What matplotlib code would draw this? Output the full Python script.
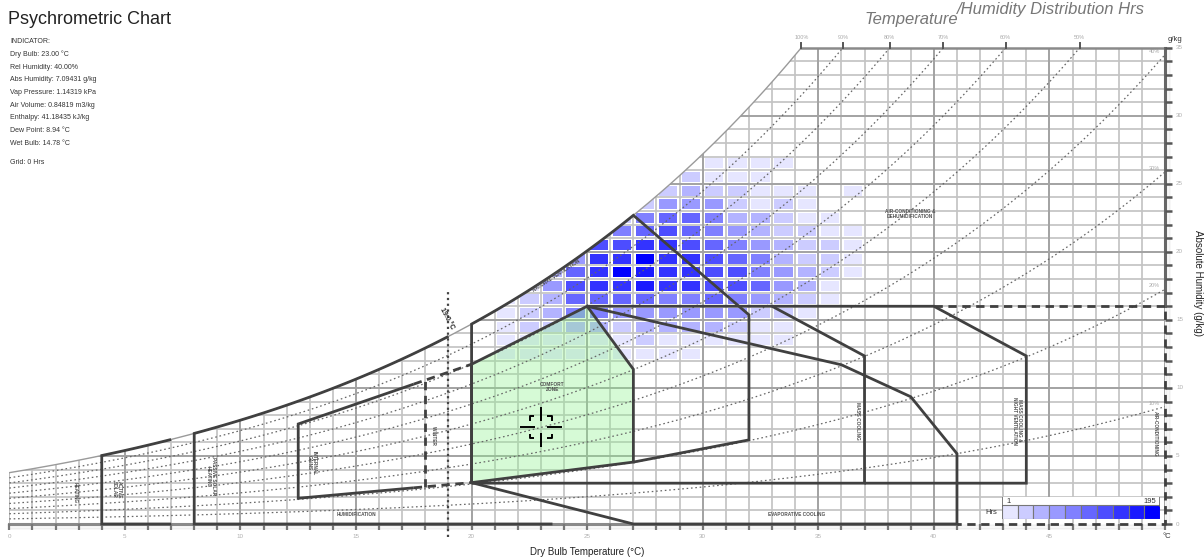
import numpy as np
import matplotlib
matplotlib.use("Agg")
import matplotlib.pyplot as plt
from matplotlib.patches import Polygon, Rectangle
from matplotlib.collections import LineCollection, PatchCollection

plt.rcParams['font.family'] = ['Liberation Sans', 'DejaVu Sans']

# ==========================================
# 1. Data
# ==========================================
indicator_lines = [
    "INDICATOR:",
    "Dry Bulb: 23.00 °C",
    "Rel Humidity: 40.00%",
    "Abs Humidity: 7.09431 g/kg",
    "Vap Pressure: 1.14319 kPa",
    "Air Volume: 0.84819 m3/kg",
    "Enthalpy: 41.18435 kJ/kg",
    "Dew Point: 8.94 °C",
    "Wet Bulb: 14.78 °C",
]
grid_text = "Grid: 0 Hrs"
indicator_db = 23.0
indicator_ah = 7.09431

rh_levels = [10, 20, 30, 40, 50, 60, 70, 80, 90]
top_rh_labels = [100, 90, 80, 70, 60, 50]
side_rh_labels = [40, 30, 20, 10]
x_tick_labels = [0, 5, 10, 15, 20, 25, 30, 35, 40, 45]
y_tick_labels = [0, 5, 10, 15, 20, 25, 30, 35]

# hour class (1..10 -> 1..195 hrs) per 1 °C x 1 g/kg cell
heat_db = [21, 22, 23, 24, 25, 26, 27, 28, 29, 30, 31, 32, 33, 34, 35, 36]
heat_ah = [26, 25, 24, 23, 22, 21, 20, 19, 18, 17, 16, 15, 14, 13, 12]
heat_class = [
    [0, 0, 0, 0, 0, 0, 0, 0, 0, 1, 1, 1, 1, 0, 0, 0],
    [0, 0, 0, 0, 0, 0, 0, 0, 2, 1, 1, 1, 0, 0, 0, 0],
    [0, 0, 0, 0, 0, 0, 0, 2, 3, 2, 2, 1, 1, 1, 0, 1],
    [0, 0, 0, 0, 0, 0, 2, 4, 4, 4, 2, 1, 2, 1, 0, 0],
    [0, 0, 0, 0, 0, 2, 5, 6, 6, 5, 3, 3, 2, 1, 1, 0],
    [0, 0, 0, 0, 4, 5, 6, 7, 6, 5, 4, 3, 2, 2, 1, 1],
    [0, 0, 0, 0, 7, 7, 8, 8, 7, 6, 5, 4, 3, 2, 2, 1],
    [0, 0, 0, 4, 8, 8, 10, 8, 8, 7, 6, 5, 3, 2, 2, 1],
    [0, 0, 3, 6, 8, 10, 9, 8, 8, 7, 7, 5, 4, 3, 2, 1],
    [0, 1, 4, 7, 8, 8, 9, 8, 8, 7, 7, 6, 4, 3, 1, 0],
    [1, 2, 3, 6, 6, 6, 6, 5, 5, 6, 5, 4, 3, 2, 1, 0],
    [1, 2, 3, 5, 5, 4, 4, 4, 4, 4, 4, 2, 2, 1, 0, 0],
    [1, 2, 2, 3, 3, 2, 3, 3, 3, 3, 2, 1, 1, 0, 0, 0],
    [1, 1, 1, 1, 1, 1, 2, 1, 1, 1, 1, 1, 1, 0, 0, 0],
    [1, 1, 1, 1, 1, 1, 1, 1, 1, 0, 0, 0, 0, 0, 0, 0],
]
legend_min, legend_max = 1, 195

# design strategy zones (dry bulb °C, abs humidity g/kg)
comfort_zone = [(20, 3.04), (20, 11.74), (25, 16.0), (27, 11.37), (27, 4.55)]
natural_vent_sat = (20, 27)
natural_vent_tail = [(32, 15.37), (32, 6.18), (27, 4.55)]
evap_cooling = [(25, 16.0), (36, 11.7), (39, 9.35), (41, 5.17), (41, 0.0), (27, 0.0), (20, 3.04)]
mass_cooling = [(33, 16.0), (37, 12.35), (37, 3.0), (20, 3.0)]
mass_cooling_nv = [(25, 16.0), (40, 16.0), (44, 12.35), (44, 3.0), (37, 3.0)]
air_con = [(40, 16.0), (50, 16.0), (50, 0.0), (41, 0.0)]
internal_gains = [(17.5, 10.28), (12.5, 7.35), (12.5, 1.89), (17.5, 2.66)]
winter_lines = [
    [(17.5, 10.28), (20, 11.74)],
    [(17.5, 2.66), (20, 3.04)],
    [(18, 2.71), (18, 10.57)],
]
passive_solar_sat = (8, 19)
passive_solar_bottom = 23.5
active_solar_sat = (4, 7)
design_temp = 19.0

zone_labels = [
    ("HEATING", 2.84, 2.3, -90),
    ("ACTIVE\nSOLAR", 4.65, 2.55, -90),
    ("PASSIVE SOLAR\nHEATING", 8.72, 3.5, -90),
    ("INTERNAL\nGAINS", 13.08, 4.5, -90),
    ("WINTER", 18.34, 6.5, -90),
    ("HUMIDIFICATION", 15.0, 0.73, 0),
    ("COMFORT\nZONE", 23.5, 10.1, 0),
    ("NATURAL VENTILATION", 23.68, 18.25, 33),
    ("AIR-CONDITIONING &\nDEHUMIDIFICATION", 38.96, 22.8, 0),
    ("MASS COOLING", 36.71, 7.6, -90),
    ("MASS COOLING &\nNIGHT VENTILATION", 43.6, 7.6, -90),
    ("AIR-CONDITIONING", 49.6, 6.6, -90),
    ("EVAPORATIVE COOLING", 34.07, 0.73, 0),
]


def w_sat(t, p=101.325):
    ps = 0.61078 * np.exp(17.27 * t / (t + 237.3))
    return 622.0 * ps / (p - ps)


def sat_points(t0, t1):
    t = np.linspace(t0, t1, 60)
    return list(zip(t, w_sat(t)))


# ==========================================
# 2. Figure and axes
# ==========================================
W_PX, H_PX = 1204, 560
fig = plt.figure(figsize=(W_PX / 100, H_PX / 100), dpi=100)
ax_rect = [9.3 / W_PX, 36 / H_PX, (1165 - 9.3) / W_PX, (524 - 47.7) / H_PX]
ax = fig.add_axes(ax_rect)
ax.set_xlim(0, 50)
ax.set_ylim(0, 35)
ax.axis('off')

ppt = ax_rect[2] * W_PX / 50.0   # px per °C
ppw = ax_rect[3] * H_PX / 35.0   # px per g/kg

tt = np.linspace(0, 50, 1001)
ws = w_sat(tt)
t_top = np.interp(35, ws, tt)

clip_t = tt[tt <= t_top]
clip_verts = [(0, 0)] + list(zip(clip_t, w_sat(clip_t))) + [(t_top, 35), (50, 35), (50, 0)]
clip_poly = Polygon(clip_verts, closed=True, transform=ax.transData)

# ==========================================
# 3. Grid
# ==========================================
for major, col, lw in [(False, '#c4c4c4', 1.25), (True, '#a2a2a2', 1.4)]:
    segs = []
    for t in range(0, 51):
        if (t % 5 == 0) == major:
            segs.append([(t, 0), (t, 35)])
    for w in range(1, 35):
        if (w % 5 == 0) == major:
            segs.append([(0, w), (50, w)])
    lc = LineCollection(segs, colors=col, linewidths=lw, zorder=1)
    lc.set_clip_path(clip_poly)
    ax.add_collection(lc)

# ==========================================
# 4. Heat map cells
# ==========================================
def class_color(k):
    rg = 230 * (10 - k) / 9.0 / 255.0
    return (rg, rg, 1.0)

dx = 2.4 / ppt
dy = 1.8 / ppw
rects, cols = [], []
for i, w in enumerate(heat_ah):
    for j, t in enumerate(heat_db):
        k = heat_class[i][j]
        if k > 0:
            rects.append(Rectangle((t + dx, w + dy), 1 - 2 * dx, 1 - 2 * dy))
            cols.append(class_color(k))
pc = PatchCollection(rects, facecolor=cols, edgecolor='none', zorder=2)
pc.set_clip_path(clip_poly)
ax.add_collection(pc)

# comfort zone fill
ax.add_patch(Polygon(comfort_zone, closed=True, facecolor=(0.55, 0.95, 0.55),
                     alpha=0.35, edgecolor='none', zorder=3))

# ==========================================
# 5. RH curves and axes
# ==========================================
for rh in rh_levels:
    w = rh / 100.0 * ws
    m = w <= 35.2
    ax.plot(tt[m], w[m], color='#666666', lw=0.9, ls=(0, (1.3, 2.2)), zorder=4)
m = ws <= 35.2
ax.plot(tt[m], ws[m], color='#9a9a9a', lw=1.0, zorder=4)

ax.plot([t_top, 50], [35, 35], color='#8a8a8a', lw=1.8, zorder=4, clip_on=False)
ax.plot([0, 41], [0, 0], color='#8a8a8a', lw=2.2, zorder=4, clip_on=False)
ax.plot([50, 50], [16, 35], color='#666666', lw=2.2, zorder=4, clip_on=False)

# soft shadow under bottom axis
for k in range(4):
    ax.plot([0, 50], [-(k + 1) * 1.2 / ppw] * 2, color='k', alpha=0.035, lw=1.2,
            zorder=0, clip_on=False)
    ax.plot([50 + (k + 1) * 1.2 / ppt] * 2, [0, 35], color='k', alpha=0.035, lw=1.2,
            zorder=0, clip_on=False)

bt = LineCollection([[(t, 0), (t, -6 / ppw)] for t in range(0, 51)],
                    colors='#777777', linewidths=1.6, zorder=4)
bt.set_clip_on(False)
ax.add_collection(bt)
rt = LineCollection([[(50, w), (50 + 7 / ppt, w)] for w in range(0, 36)],
                    colors='#555555', linewidths=1.8, zorder=4)
rt.set_clip_on(False)
ax.add_collection(rt)

for v in x_tick_labels:
    ax.text(v, -12 / ppw, str(v), fontsize=4.5, color='#b0b0b0', ha='center', va='center')
for v in y_tick_labels:
    ax.text(50 + 11 / ppt, v, str(v), fontsize=4.5, color='#b0b0b0', ha='left', va='center')
ax.text(50 + 2 / ppt, -12 / ppw, "°C", fontsize=5.5, color='#333333', ha='center', va='center')
ax.text(50 + 10 / ppt, 35 + 8 / ppw, "g/kg", fontsize=5.5, color='#333333', ha='center', va='center')

for rh in top_rh_labels:
    tc = np.interp(35, rh / 100.0 * ws, tt)
    ax.plot([tc, tc], [35, 35 + 5 / ppw], color='#555555', lw=1.4, clip_on=False, zorder=4)
    ax.text(tc, 35 + 10 / ppw, f"{rh}%", fontsize=4, color='#aaaaaa', ha='center', va='center')
for rh in side_rh_labels:
    we = rh / 100.0 * w_sat(50.0)
    ax.text(50 - 5 / ppt, we + 1 / ppw, f"{rh}%", fontsize=4, color='#aaaaaa', ha='right', va='bottom')

# ==========================================
# 6. Zones
# ==========================================
ZC = '#404040'

def draw_line(pts, dashed=False, lw=2.0):
    xs = [p[0] for p in pts]
    ys = [p[1] for p in pts]
    ls = (0, (3, 2)) if dashed else '-'
    ax.plot(xs, ys, color=ZC, lw=lw, ls=ls, zorder=5, clip_on=False,
            solid_joinstyle='miter', solid_capstyle='butt')

draw_line(comfort_zone + [comfort_zone[0]])
draw_line([comfort_zone[0]] + sat_points(*natural_vent_sat) + natural_vent_tail)
draw_line(evap_cooling)
draw_line(mass_cooling)
draw_line(mass_cooling_nv)
draw_line(air_con, dashed=True)
draw_line(internal_gains)
for seg in winter_lines:
    draw_line(seg, dashed=True)
draw_line([(passive_solar_bottom, 0), (passive_solar_sat[0], 0)] + sat_points(*passive_solar_sat))
draw_line([(active_solar_sat[1], 0), (active_solar_sat[0], 0)] + sat_points(*active_solar_sat))

ax.plot([design_temp, design_temp], [-0.96, 17.2], color='#444444', lw=1.6,
        ls=(0, (1.0, 1.6)), zorder=5, clip_on=False)
ax.text(design_temp - 0.08, 15.12, "19.0 °C", fontsize=5, color='#222222', rotation=-62,
        ha='center', va='center', fontweight='bold', zorder=6)

for txt, t, w, rot in zone_labels:
    ax.text(t, w, txt, fontsize=3.4, color='#505050', rotation=rot, ha='center', va='center',
            fontweight='bold', linespacing=1.0, zorder=6)

# indicator crosshair
sx, sy = 1 / ppt, 1 / ppw
ch = []
ch += [[(-21, 0), (-6, 0)], [(6, 0), (21, 0)], [(0, -20), (0, -6)], [(0, 6), (0, 20)]]
for ux in (-1, 1):
    for uy in (-1, 1):
        ch.append([(ux * 11, uy * 6.5), (ux * 11, uy * 11), (ux * 6.5, uy * 11)])
ch = [[(indicator_db + a * sx, indicator_ah + b * sy) for a, b in s] for s in ch]
ax.add_collection(LineCollection(ch, colors='black', linewidths=1.4, zorder=7))

# ==========================================
# 7. Texts
# ==========================================
fig.text(8 / W_PX, 1 - 24 / H_PX, "Psychrometric Chart", fontsize=13, color='#222222',
         ha='left', va='baseline')
fig.text(865 / W_PX, 1 - 24 / H_PX, "Temperature", fontsize=12, color='#777777',
         style='italic', ha='left', va='baseline')
fig.text(957 / W_PX, 1 - 14 / H_PX, "/Humidity Distribution Hrs", fontsize=12, color='#777777',
         style='italic', ha='left', va='baseline')

for i, line in enumerate(indicator_lines):
    fig.text(10 / W_PX, 1 - (41.7 + 12.7 * i) / H_PX, line, fontsize=5, color='#333333',
             ha='left', va='center')
fig.text(10 / W_PX, 1 - 162.7 / H_PX, grid_text, fontsize=5, color='#333333', ha='left', va='center')

fig.text(587.5 / W_PX, 1 - 552 / H_PX, "Dry Bulb Temperature (°C)", fontsize=7,
         color='#222222', ha='center', va='center')
fig.text(1198 / W_PX, 1 - 283 / H_PX, "Absolute Humidity (g/kg)", fontsize=7,
         color='#222222', ha='center', va='center', rotation=-90)

# ==========================================
# 8. Legend
# ==========================================
lax = fig.add_axes([1001.7 / W_PX, 1 - 519 / H_PX, 158.6 / W_PX, 22.2 / H_PX])
lax.set_xlim(0, 10)
lax.set_ylim(0, 1)
lax.set_facecolor('white')
for s in lax.spines.values():
    s.set_visible(False)
lax.set_xticks([])
lax.set_yticks([])
lax.bar(np.arange(10), 0.6, width=1, bottom=0.02, align='edge',
        color=[class_color(k) for k in range(1, 11)], edgecolor='#777777', linewidth=0.8)
lax.plot([0.02, 0.02], [0.6, 1.0], color='#666666', lw=1.2)
lax.plot([9.98, 9.98], [0.6, 1.0], color='#666666', lw=1.2)
lax.text(0.3, 0.8, str(legend_min), fontsize=5.5, color='#333333', ha='left', va='center')
lax.text(9.75, 0.8, str(legend_max), fontsize=5.5, color='#333333', ha='right', va='center')
fig.text(997 / W_PX, 1 - 512 / H_PX, "Hrs", fontsize=5.5, color='#333333', ha='right', va='center')

fig.savefig("out.png", dpi=100)
